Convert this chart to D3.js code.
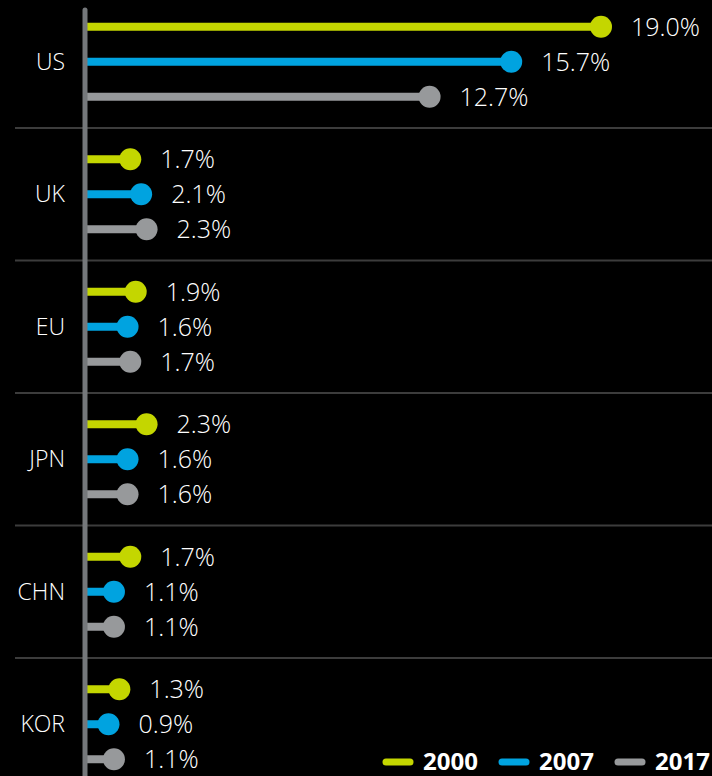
<!DOCTYPE html>
<html>
<head>
<meta charset="utf-8">
<script src="https://cdn.jsdelivr.net/npm/d3@7"></script>
<style>
  html, body { margin: 0; padding: 0; background: #000; }
  svg { display: block; }
</style>
</head>
<body>
<div id="chart"></div>
<script>
// data
const categories = ["US", "UK", "EU", "JPN", "CHN", "KOR"];
const years = ["2000", "2007", "2017"];
const values2000 = [19.0, 1.7, 1.9, 2.3, 1.7, 1.3];
const values2007 = [15.7, 2.1, 1.6, 1.6, 1.1, 0.9];
const values2017 = [12.7, 2.3, 1.7, 1.6, 1.1, 1.1];
const seriesColors = ["#c4d600", "#00a3e0", "#97999b"];

const series = [values2000, values2007, values2017];

const svg_w = 712, svg_h = 776;
const svg = d3.select("#chart")
    .append("svg")
    .attr("width", svg_w)
    .attr("height", svg_h)
    .style("font-family", "'Open Sans', sans-serif");

svg.append("rect")
    .attr("width", svg_w)
    .attr("height", svg_h)
    .attr("fill", "#000");

// scales
const x = d3.scaleLinear().domain([0, 19]).range([84, 601]);
const y = d3.scaleBand().domain(categories).range([-4.5, 790.5]);
const ySub = d3.scalePoint().domain(years).range([-35, 35]);
const color = d3.scaleOrdinal().domain(years).range(seriesColors);

// separators between groups
svg.selectAll(".sep")
    .data(categories.slice(1))
    .enter()
    .append("line")
    .attr("class", "sep")
    .attr("x1", 15)
    .attr("x2", svg_w)
    .attr("y1", d => y(d))
    .attr("y2", d => y(d))
    .attr("stroke", "#3c3c3c")
    .attr("stroke-width", 2);

// flatten rows
const rows = [];
categories.forEach((c, i) => {
    years.forEach((yr, j) => {
        rows.push({ cat: c, year: yr, value: series[j][i] });
    });
});
const rowY = d => y(d.cat) + y.bandwidth() / 2 + ySub(d.year);

// stems
svg.selectAll(".stem")
    .data(rows)
    .enter()
    .append("line")
    .attr("class", "stem")
    .attr("x1", x(0))
    .attr("x2", d => x(d.value))
    .attr("y1", rowY)
    .attr("y2", rowY)
    .attr("stroke", d => color(d.year))
    .attr("stroke-width", 8);

svg.selectAll(".dot")
    .data(rows)
    .enter()
    .append("circle")
    .attr("class", "dot")
    .attr("cx", d => x(d.value))
    .attr("cy", rowY)
    .attr("r", 11)
    .attr("fill", d => color(d.year));

svg.selectAll(".val")
    .data(rows)
    .enter()
    .append("text")
    .attr("class", "val")
    .attr("x", d => x(d.value) + 30)
    .attr("y", d => rowY(d) + 9)
    .attr("fill", "#fff")
    .style("font-size", "25px")
    .style("font-weight", 300)
    .text(d => d.value.toFixed(1) + "%");

// vertical axis line
svg.append("line")
    .attr("x1", 85)
    .attr("x2", 85)
    .attr("y1", 10)
    .attr("y2", svg_h + 10)
    .attr("stroke", "#75787b")
    .attr("stroke-width", 5)
    .attr("stroke-linecap", "round");

// category labels
svg.selectAll(".cat")
    .data(categories)
    .enter()
    .append("text")
    .attr("class", "cat")
    .attr("x", 65)
    .attr("y", d => y(d) + y.bandwidth() / 2 + 8)
    .attr("text-anchor", "end")
    .attr("fill", "#fff")
    .style("font-size", "23px")
    .style("font-weight", 300)
    .text(d => d);

// legend
const legendX = [383, 499, 615];
const legend = svg.selectAll(".legend")
    .data(years)
    .enter()
    .append("g")
    .attr("class", "legend")
    .attr("transform", (d, i) => "translate(" + legendX[i] + ",762)");

legend.append("line")
    .attr("x1", 3)
    .attr("x2", 27)
    .attr("stroke", d => color(d))
    .attr("stroke-width", 7)
    .attr("stroke-linecap", "round");

legend.append("text")
    .attr("x", 40)
    .attr("y", 8)
    .attr("fill", "#fff")
    .style("font-size", "24px")
    .style("font-weight", "bold")
    .text(d => d);
</script>
</body>
</html>
